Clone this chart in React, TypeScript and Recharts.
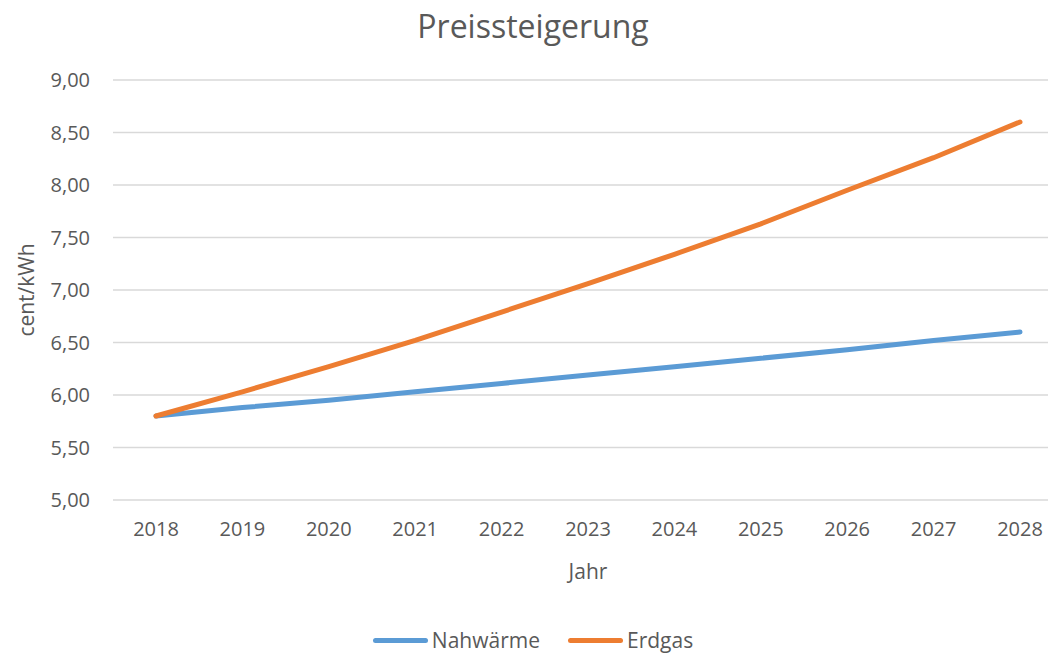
import React from "react";
import {
  LineChart,
  Line,
  XAxis,
  YAxis,
  CartesianGrid,
  Legend,
} from "recharts";

const years = ["2018", "2019", "2020", "2021", "2022", "2023", "2024", "2025", "2026", "2027", "2028"];
const nahwaerme = [5.8, 5.88, 5.95, 6.03, 6.11, 6.19, 6.27, 6.35, 6.43, 6.52, 6.6];
const erdgas = [5.8, 6.03, 6.27, 6.52, 6.79, 7.06, 7.34, 7.63, 7.95, 8.26, 8.6];
const yTicks = [5, 5.5, 6, 6.5, 7, 7.5, 8, 8.5, 9];
const seriesOrder = ["Nahwärme", "Erdgas"];

const data = years.map((year, i) => ({
  year,
  nahwaerme: nahwaerme[i],
  erdgas: erdgas[i],
}));

const TEXT = "#595959";
const FONT = "'Open Sans', sans-serif";

const fmt = (v: number) => v.toFixed(2).replace(".", ",");

function renderLegend(props: any) {
  const payload = [...(props.payload || [])].sort(
    (a: any, b: any) => seriesOrder.indexOf(a.value) - seriesOrder.indexOf(b.value)
  );
  return (
    <div style={{ display: "flex", justifyContent: "center", alignItems: "center", gap: 28 }}>
      {payload.map((entry: any) => (
        <div key={entry.value} style={{ display: "flex", alignItems: "center" }}>
          <span
            style={{
              display: "inline-block",
              width: 55,
              height: 5,
              borderRadius: 3,
              background: entry.color,
              marginRight: 4,
            }}
          />
          <span style={{ fontSize: 21, color: TEXT }}>{entry.value}</span>
        </div>
      ))}
    </div>
  );
}

export default function App() {
  return (
    <div
      style={{
        position: "absolute",
        left: 0,
        top: 0,
        width: 1048,
        height: 653,
        overflow: "hidden",
        background: "#fff",
        fontFamily: FONT,
      }}
    >
      <div
        style={{
          position: "absolute",
          top: 4,
          left: 0,
          width: 1066,
          textAlign: "center",
          fontSize: 32,
          color: TEXT,
        }}
      >
        Preissteigerung
      </div>
      <LineChart
        width={1066}
        height={653}
        data={data}
        margin={{ top: 80, right: 3, bottom: 113, left: 0 }}
      >
        <CartesianGrid vertical={false} stroke="#D9D9D9" strokeWidth={1.5} />
        <XAxis
          dataKey="year"
          axisLine={false}
          tickLine={false}
          tickSize={0}
          tickMargin={22}
          height={40}
          padding={{ left: 43, right: 43 }}
          tick={{ fontSize: 20, fill: TEXT }}
          label={{ value: "Jahr", position: "bottom", offset: 24, fontSize: 21, fill: TEXT }}
        />
        <YAxis
          domain={[5, 9]}
          ticks={yTicks}
          tickFormatter={fmt}
          axisLine={false}
          tickLine={false}
          tickSize={0}
          tickMargin={23}
          width={113}
          tick={{ fontSize: 20, fill: TEXT }}
          label={{
            value: "cent/kWh",
            angle: -90,
            position: "insideLeft",
            offset: 27,
            fontSize: 21,
            fill: TEXT,
            style: { textAnchor: "middle" },
          }}
        />
        <Legend
          verticalAlign="middle"
          content={renderLegend}
          wrapperStyle={{ top: 626, left: 0, width: 1066 }}
        />
        <Line
          type="linear"
          dataKey="nahwaerme"
          name="Nahwärme"
          stroke="#5B9BD5"
          strokeWidth={5}
          strokeLinecap="round"
          dot={false}
          isAnimationActive={false}
        />
        <Line
          type="linear"
          dataKey="erdgas"
          name="Erdgas"
          stroke="#ED7D31"
          strokeWidth={5}
          strokeLinecap="round"
          dot={false}
          isAnimationActive={false}
        />
      </LineChart>
    </div>
  );
}
